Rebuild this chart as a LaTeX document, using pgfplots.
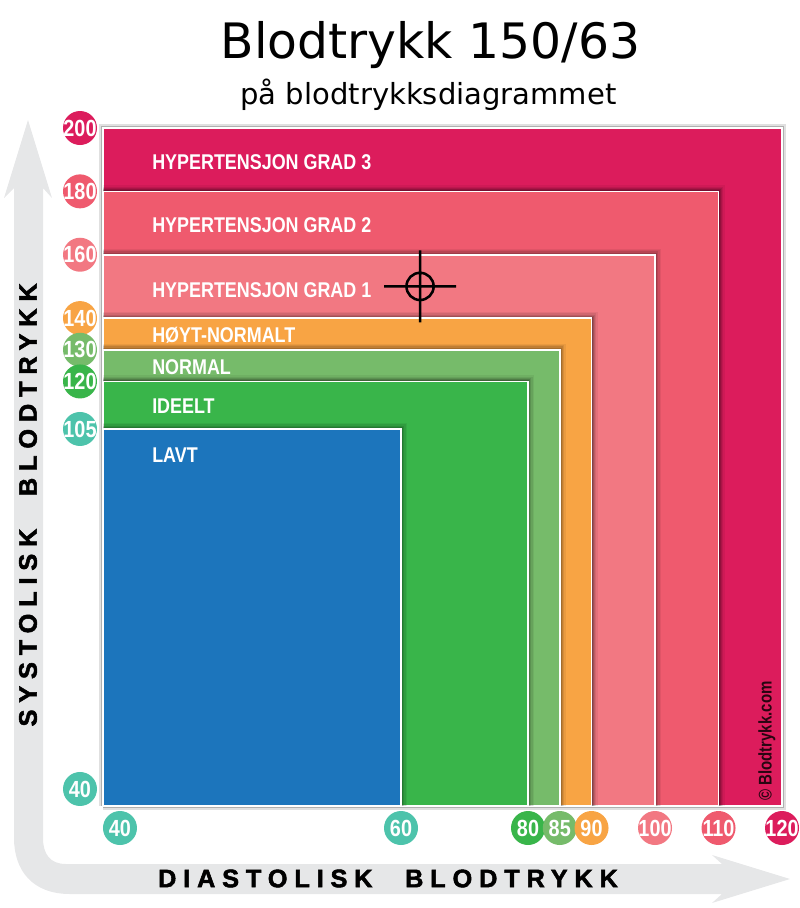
\documentclass[border=0pt]{standalone}
\usepackage{fontspec}
\usepackage{graphicx}
\usepackage{pgfplots}
\pgfplotsset{compat=1.18}
\setmainfont{DejaVu Sans}
\newfontfamily\lb{Liberation Sans}
\newfontfamily\spc[LetterSpace=27,BoldFeatures={FakeBold=2}]{Liberation Sans}
\definecolor{c200}{HTML}{DC1C5C}
\definecolor{c180}{HTML}{EF5A6E}
\definecolor{c160}{HTML}{F27882}
\definecolor{c140}{HTML}{F8A444}
\definecolor{c130}{HTML}{76BB6A}
\definecolor{c120}{HTML}{39B54A}
\definecolor{c105}{HTML}{1C75BC}
\definecolor{cteal}{HTML}{4DC3AB}
\definecolor{cgrey}{HTML}{E6E7E8}
\newcommand\circlab[2]{\tikz[baseline=(n.base)]\node[circle,fill=#1,inner sep=0pt,minimum size=25.5pt,text=white](n){\makebox[10pt][c]{\lb\bfseries\fontsize{17.5}{18}\selectfont\scalebox{.85}[1]{#2}}};}
\newcommand\shad[2]{%
 \addplot[forget plot,draw=black,draw opacity=#2,line width=#1pt] coordinates {(38.79,\Y)(\X,\Y)(\X,36.93)};}
\newcommand\rect[3]{%
 \def\X{#2}\def\Y{#3}%
 \shad{9}{.06}\shad{7}{.08}\shad{5}{.1}\shad{3.2}{.14}\shad{1.8}{.18}%
 \addplot[forget plot,fill=#1,draw=white,line width=1.2pt] coordinates {(38.79,36.93)(#2,36.93)(#2,#3)(38.79,#3)(38.79,36.93)};}
\pgfdeclareplotmark{crosshair}{%
 \pgfpathcircle{\pgfpointorigin}{10.2pt}%
 \pgfpathmoveto{\pgfqpoint{-27pt}{0pt}}\pgfpathlineto{\pgfqpoint{27pt}{0pt}}%
 \pgfpathmoveto{\pgfqpoint{0pt}{-27pt}}\pgfpathlineto{\pgfqpoint{0pt}{27pt}}%
 \pgfusepathqstroke}
\begin{document}
\begin{tikzpicture}[x=.75pt,y=-.75pt]
\useasboundingbox (0,0) rectangle (800,908);
% grey L arrow
\fill[cgrey] (28,120) -- (52,198) -- (43,188) -- (43,838) .. controls (43,854) and (50,864) .. (66,864)
 -- (722,864) -- (712,855) -- (790,879) -- (712,903) -- (722,894) -- (70,894)
 .. controls (32,894) and (14,870) .. (14,838) -- (14,188) -- (4,198) -- cycle;
\begin{axis}[
 at={(0pt,-681pt)},anchor=south west,
 scale only axis,width=600pt,height=681pt,
 xmin=31.46,xmax=122.83,ymin=18.51,ymax=240.4,
 x coord trafo/.code={\pgfmathparse{#1<60 ? 120+(#1-40)*14.05 : 401+(#1-60)*6.35}},
 y coord trafo/.code={\pgfmathparse{#1<105 ? 119+(#1-40)*5.538 : 479+(#1-105)*3.168}},
 axis line style={draw=none},
 major tick length=0pt,
 clip=false,
 xtick={40,60,80,85,90,100,110,120},
 xticklabels={{\circlab{cteal}{40}},{\circlab{cteal}{60}},{\circlab{c120}{80}},{\circlab{c130}{85}},{\circlab{c140}{90}},{\circlab{c160}{100}},{\circlab{c180}{110}},{\circlab{c200}{120}}},
 ytick={200,180,160,140,130,120,105,40},
 yticklabels={{\circlab{c200}{200}},{\circlab{c180}{180}},{\circlab{c160}{160}},{\circlab{c140}{140}},{\circlab{c130}{130}},{\circlab{c120}{120}},{\circlab{cteal}{105}},{\circlab{cteal}{40}}},
 x tick label style={anchor=center,yshift=60pt},
 y tick label style={anchor=center,xshift=60pt},
 xlabel={\spc\bfseries\fontsize{19}{22}\selectfont DIASTOLISK\hspace{14pt} BLODTRYKK},
 xlabel style={at={(axis description cs:0.485,0.0325)},anchor=center},
 ylabel={\spc\bfseries\fontsize{19}{22}\selectfont SYSTOLISK\hspace{14pt} BLODTRYKK},
 ylabel style={at={(axis description cs:0.035,0.444)},anchor=center,rotate=0},
]
% thin shadow round the whole block
\addplot[forget plot,draw=black,draw opacity=.12,line width=6pt] coordinates {(38.79,36.93)(120,36.93)(120,200)(38.79,200)(38.79,36.93)};
\addplot[forget plot,draw=black,draw opacity=.22,line width=3.6pt] coordinates {(38.79,36.93)(120,36.93)(120,200)(38.79,200)(38.79,36.93)};
\addplot[forget plot,fill=c200,draw=white,line width=1.2pt] coordinates {(38.79,36.93)(120,36.93)(120,200)(38.79,200)(38.79,36.93)};
\rect{c180}{110}{180}
\rect{c160}{100}{160}
\rect{c140}{90}{140}
\rect{c130}{85}{130}
\rect{c120}{80}{120}
\rect{c105}{60}{105}
\addplot[forget plot,only marks,mark=crosshair,draw=black,line width=1.9pt] coordinates {(63,150)};
\end{axis}
\node[anchor=center,font=\fontsize{36.6}{40}\selectfont] at (430.5,45) {Blodtrykk 150/63};
\node[anchor=center,font=\fontsize{21.8}{24}\selectfont] at (428.5,95) {på blodtrykksdiagrammet};
\foreach \t/\py in {HYPERTENSJON GRAD 3/162,HYPERTENSJON GRAD 2/225,HYPERTENSJON GRAD 1/290,HØYT-NORMALT/335,NORMAL/367,IDEELT/406,LAVT/455}
 \node[anchor=west,inner sep=0pt,text=white] at (152,\py) {\lb\bfseries\fontsize{16}{18}\selectfont\scalebox{.84}[1]{\t}};
\node[rotate=90,anchor=center,inner sep=0pt,text=black!70!c200!60!black] at (767,741) {\lb\fontsize{12.5}{14}\selectfont\scalebox{.9}[1.1]{\textbf{© Blodtrykk.com}}};
\end{tikzpicture}
\end{document}
